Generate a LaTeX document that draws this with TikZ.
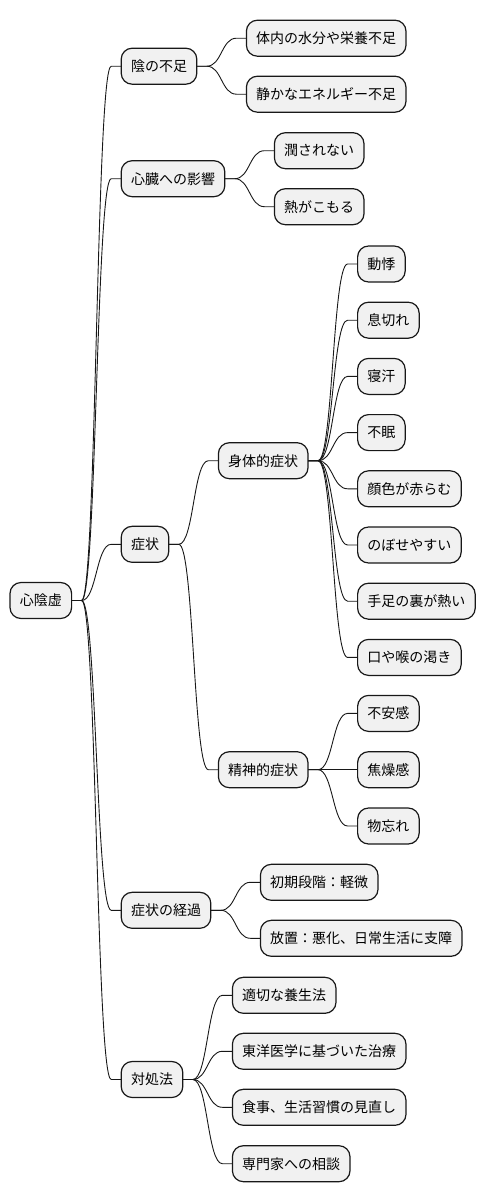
\documentclass[tikz,border=0pt]{standalone}
\usepackage{fontspec}
\usepackage{xcolor}
\usepackage{tikz}
\usetikzlibrary{positioning}
\newfontfamily\jpfont{Noto Sans CJK JP}
\definecolor{boxfill}{HTML}{F1F1F1}
\definecolor{boxline}{HTML}{181818}

\begin{document}
\begin{tikzpicture}[
  x=1pt, y=1pt,
  topic/.style={
    draw=boxline,
    fill=boxfill,
    line width=1.2pt,
    rounded corners=11pt,
    minimum height=36pt,
    inner xsep=9.8pt,
    inner ysep=0pt,
    outer sep=0pt,
    font=\jpfont\fontsize{14pt}{16pt}\selectfont
  },
  branch/.style={to path={-- ++(10pt,0) .. controls +(15pt,0) and +(-15pt,0) .. ([xshift=-10pt]\tikztotarget) -- (\tikztotarget)}},
  link/.style={draw=boxline, line width=0.9pt}
]
  \useasboundingbox (0,0) rectangle (488,-1203);

  % root
  \node[topic, anchor=west] (root) at (10,-600.5) {心陰虚};

  % first level
  \node[topic, right=49.6pt of root, yshift=534.3pt] (yinlack) {陰の不足};
  \node[topic, right=49.6pt of root, yshift=421.8pt] (heart) {心臓への影響};
  \node[topic, right=49.6pt of root, yshift=56.2pt] (symptom) {症状};
  \node[topic, right=49.6pt of root, yshift=-309.8pt] (course) {症状の経過};
  \node[topic, right=49.6pt of root, yshift=-479pt] (remedy) {対処法};

  % 陰の不足
  \node[topic, right=49.6pt of yinlack, yshift=28pt] (water) {体内の水分や栄養不足};
  \node[topic, right=49.6pt of yinlack, yshift=-28pt] (energy) {静かなエネルギー不足};

  % 心臓への影響
  \node[topic, right=49.6pt of heart, yshift=28pt] (moist) {潤されない};
  \node[topic, right=49.6pt of heart, yshift=-28pt] (heat) {熱がこもる};

  % 症状
  \node[topic, right=49.6pt of symptom, yshift=83.6pt] (body) {身体的症状};
  \node[topic, right=49.6pt of symptom, yshift=-225.4pt] (mind) {精神的症状};

  \node[topic, right=49.6pt of body, yshift=196.7pt] (palp) {動悸};
  \node[topic, right=49.6pt of body, yshift=140.5pt] (breath) {息切れ};
  \node[topic, right=49.6pt of body, yshift=84.3pt] (sweat) {寝汗};
  \node[topic, right=49.6pt of body, yshift=28.1pt] (sleep) {不眠};
  \node[topic, right=49.6pt of body, yshift=-28.1pt] (flush) {顔色が赤らむ};
  \node[topic, right=49.6pt of body, yshift=-84.3pt] (hotflash) {のぼせやすい};
  \node[topic, right=49.6pt of body, yshift=-140.5pt] (soles) {手足の裏が熱い};
  \node[topic, right=49.6pt of body, yshift=-196.7pt] (thirst) {口や喉の渇き};

  \node[topic, right=49.6pt of mind, yshift=56.3pt] (anxiety) {不安感};
  \node[topic, right=49.6pt of mind] (restless) {焦燥感};
  \node[topic, right=49.6pt of mind, yshift=-56.3pt] (forget) {物忘れ};

  % 症状の経過
  \node[topic, right=49.6pt of course, yshift=28pt] (early) {初期段階：軽微};
  \node[topic, right=49.6pt of course, yshift=-28pt] (neglect) {放置：悪化、日常生活に支障};

  % 対処法
  \node[topic, right=49.6pt of remedy, yshift=84.2pt] (regimen) {適切な養生法};
  \node[topic, right=49.6pt of remedy, yshift=28.2pt] (kampo) {東洋医学に基づいた治療};
  \node[topic, right=49.6pt of remedy, yshift=-27.8pt] (habits) {食事、生活習慣の見直し};
  \node[topic, right=49.6pt of remedy, yshift=-84.2pt] (expert) {専門家への相談};

  % connectors
  \foreach \a/\b in {root/yinlack, root/heart, root/symptom, root/course, root/remedy,
      yinlack/water, yinlack/energy, heart/moist, heart/heat,
      symptom/body, symptom/mind,
      body/palp, body/breath, body/sweat, body/sleep,
      body/flush, body/hotflash, body/soles, body/thirst,
      mind/anxiety, mind/restless, mind/forget,
      course/early, course/neglect,
      remedy/regimen, remedy/kampo, remedy/habits, remedy/expert}
    \draw[link] (\a.east) to[branch] (\b.west);
\end{tikzpicture}
\end{document}
